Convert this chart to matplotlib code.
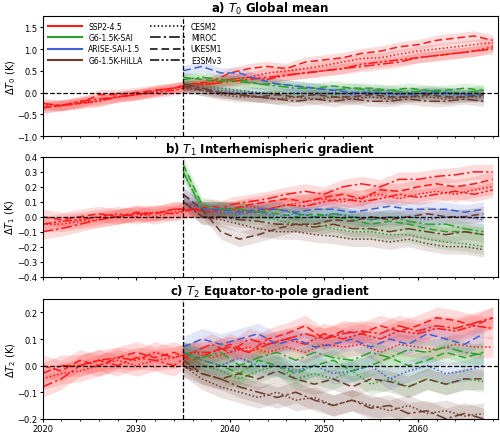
import matplotlib
matplotlib.use("Agg")
import matplotlib.pyplot as plt
from matplotlib.lines import Line2D
import numpy as np

years_ssp = list(range(2020, 2069, 2))
years_sai = list(range(2035, 2068, 2))

scenarios = ["SSP2-4.5", "G6-1.5K-SAI", "ARISE-SAI-1.5", "G6-1.5K-HiLLA"]
models = ["CESM2", "MIROC", "UKESM1", "E3SMv3"]

# Panel a: T0
a_ssp_cesm = [-0.3,-0.28,-0.22,-0.2,-0.1,-0.05,0.02,0.1,0.15,0.25,0.3,0.35,0.45,0.5,0.55,0.62,0.7,0.78,0.8,0.88,0.95,1.0,1.05,1.1,1.15]
a_ssp_miroc = [-0.25,-0.3,-0.2,-0.15,-0.1,-0.05,0.05,0.1,0.2,0.2,0.25,0.3,0.35,0.4,0.45,0.5,0.55,0.6,0.65,0.7,0.8,0.85,0.9,0.95,1.0]
a_ssp_ukesm = [-0.35,-0.3,-0.25,-0.05,-0.05,0.0,0.05,0.1,0.2,0.25,0.45,0.55,0.6,0.55,0.7,0.75,0.8,0.9,0.95,1.05,1.1,1.2,1.25,1.3,1.2]
a_ssp_e3sm = [-0.35,-0.3,-0.25,-0.2,-0.1,-0.05,0.0,0.05,0.15,0.2,0.3,0.35,0.3,0.4,0.45,0.5,0.55,0.65,0.7,0.75,0.8,0.85,0.9,0.95,1.05]
a_g6_cesm = [0.2,0.15,0.1,0.05,0.0,0.0,-0.05,0.0,-0.05,0.0,0.0,-0.05,0.0,-0.05,0.0,-0.05,0.0]
a_g6_miroc = [0.3,0.35,0.3,0.25,0.2,0.15,0.1,0.1,0.05,0.1,0.05,0.05,0.0,0.05,0.0,0.0,0.05]
a_g6_ukesm = [0.35,0.3,0.25,0.3,0.2,0.2,0.15,0.1,0.15,0.1,0.1,0.05,0.1,0.05,0.05,0.1,0.05]
a_arise_ukesm = [0.5,0.6,0.45,0.45,0.3,0.2,0.15,0.1,0.05,0.0,0.0,0.0,-0.05,0.0,0.0,-0.05,-0.05]
a_arise_cesm = [0.15,0.1,0.05,0.0,0.0,-0.05,0.0,-0.05,0.0,-0.05,0.0,-0.05,-0.05,0.0,-0.05,-0.05,-0.1]
a_hilla_cesm = [0.1,0.05,-0.05,-0.1,-0.1,-0.15,-0.1,-0.15,-0.1,-0.15,-0.1,-0.15,-0.1,-0.1,-0.15,-0.1,-0.1]
a_hilla_miroc = [0.2,0.1,0.0,-0.05,-0.1,-0.15,-0.2,-0.15,-0.2,-0.15,-0.2,-0.2,-0.15,-0.2,-0.2,-0.15,-0.2]
a_hilla_ukesm = [0.15,0.05,0.0,-0.05,-0.1,-0.05,-0.1,-0.05,-0.1,-0.1,-0.05,-0.1,-0.1,-0.05,-0.1,-0.1,-0.05]

# Panel b: T1
b_ssp_cesm = [-0.05,-0.05,-0.03,-0.02,0.0,0.02,0.0,0.03,0.05,0.03,0.05,0.07,0.05,0.08,0.1,0.12,0.1,0.13,0.15,0.12,0.15,0.17,0.15,0.18,0.2]
b_ssp_miroc = [-0.1,-0.08,-0.05,-0.02,0.0,0.02,0.02,0.05,0.05,0.03,0.08,0.1,0.12,0.15,0.17,0.15,0.2,0.22,0.2,0.25,0.25,0.27,0.28,0.3,0.3]
b_ssp_ukesm = [0.0,-0.02,0.0,0.02,0.0,0.03,0.02,0.05,0.05,0.07,0.05,0.08,0.1,0.12,0.1,0.13,0.15,0.12,0.18,0.17,0.2,0.22,0.2,0.22,0.25]
b_ssp_e3sm = [-0.05,-0.03,-0.02,0.0,0.02,0.0,0.03,0.02,0.05,0.05,0.05,0.03,0.05,0.08,0.07,0.1,0.12,0.1,0.12,0.15,0.13,0.15,0.17,0.15,0.18]
b_g6_cesm = [0.3,0.05,0.05,0.0,0.0,-0.02,-0.05,-0.05,-0.08,-0.1,-0.1,-0.12,-0.12,-0.15,-0.17,-0.18,-0.2]
b_g6_miroc = [0.3,0.05,0.05,0.05,0.03,0.05,0.02,0.0,0.02,0.0,-0.02,0.0,-0.03,-0.05,-0.05,-0.08,-0.1]
b_g6_ukesm = [0.35,0.08,0.05,0.05,0.03,0.02,0.0,0.02,0.0,-0.02,-0.05,-0.03,-0.05,-0.08,-0.1,-0.1,-0.12]
b_arise_ukesm = [0.15,0.05,0.05,0.03,0.05,0.05,0.03,0.05,0.05,0.03,0.05,0.07,0.05,0.05,0.05,0.03,0.05]
b_arise_cesm = [0.1,0.05,0.03,0.02,0.03,0.0,0.02,0.0,0.02,0.0,-0.02,0.0,0.0,-0.02,0.0,0.0,-0.02]
b_hilla_cesm = [0.1,0.0,-0.02,-0.05,-0.08,-0.1,-0.1,-0.12,-0.13,-0.15,-0.15,-0.17,-0.15,-0.18,-0.2,-0.2,-0.22]
b_hilla_miroc = [0.1,0.0,0.0,-0.02,-0.03,-0.05,-0.05,-0.07,-0.05,-0.08,-0.08,-0.1,-0.08,-0.1,-0.12,-0.1,-0.12]
b_hilla_ukesm = [0.15,0.05,-0.1,-0.15,-0.12,-0.08,-0.05,-0.05,-0.02,-0.03,0.0,-0.02,0.0,0.02,0.0,0.0,0.02]

# Panel c: T2
c_ssp_cesm = [-0.05,-0.03,-0.02,0.0,0.02,0.0,0.02,0.03,0.05,0.03,0.05,0.07,0.05,0.07,0.05,0.08,0.07,0.08,0.05,0.08,0.07,0.06,0.08,0.07,0.07]
c_ssp_miroc = [-0.08,-0.05,0.0,0.02,0.0,0.03,0.02,0.0,0.05,0.08,0.05,0.1,0.08,0.1,0.12,0.1,0.12,0.13,0.12,0.15,0.13,0.15,0.14,0.16,0.18]
c_ssp_ukesm = [0.0,-0.02,0.02,0.0,0.03,0.05,0.03,0.05,0.02,0.05,0.08,0.05,0.1,0.12,0.15,0.1,0.13,0.12,0.15,0.13,0.15,0.18,0.17,0.15,0.18]
c_ssp_e3sm = [-0.03,0.0,0.0,0.02,0.03,0.02,0.05,0.03,0.05,0.05,0.07,0.05,0.08,0.1,0.08,0.12,0.1,0.12,0.1,0.13,0.12,0.14,0.13,0.15,0.14]
c_g6_cesm = [0.05,0.0,-0.02,-0.05,-0.02,0.0,-0.05,-0.03,-0.05,-0.02,-0.07,-0.05,-0.08,-0.05,-0.07,-0.05,-0.06]
c_g6_miroc = [0.05,0.03,0.05,0.0,0.03,0.05,0.02,0.05,0.03,0.02,0.05,0.03,0.06,0.05,0.07,0.05,0.04]
c_g6_ukesm = [0.05,0.02,0.0,-0.03,0.02,0.0,-0.03,0.0,0.02,-0.02,0.0,0.03,0.0,0.02,0.05,0.03,0.05]
c_arise_ukesm = [0.07,0.1,0.08,0.1,0.12,0.08,0.1,0.07,0.08,0.1,0.07,0.1,0.08,0.12,0.1,0.08,0.12]
c_arise_cesm = [0.05,0.02,0.0,0.03,0.0,0.0,-0.02,0.0,-0.03,-0.02,0.0,-0.05,-0.02,0.0,-0.03,-0.02,0.0]
c_hilla_cesm = [0.0,-0.05,-0.08,-0.1,-0.12,-0.1,-0.13,-0.12,-0.15,-0.13,-0.15,-0.17,-0.15,-0.18,-0.17,-0.19,-0.18]
c_hilla_miroc = [0.0,-0.03,-0.05,-0.08,-0.1,-0.12,-0.1,-0.13,-0.15,-0.13,-0.16,-0.15,-0.18,-0.17,-0.2,-0.18,-0.2]
c_hilla_ukesm = [0.02,-0.03,-0.05,-0.03,-0.05,-0.02,-0.05,-0.07,-0.05,-0.08,-0.05,-0.06,-0.08,-0.05,-0.07,-0.05,-0.05]

colors = {"SSP2-4.5": "#ff1a1a", "G6-1.5K-SAI": "#2ca02c",
          "ARISE-SAI-1.5": "#4060d0", "G6-1.5K-HiLLA": "#6b3a2a"}
styles = {"CESM2": (0, (1, 1.5)), "MIROC": (0, (7, 2, 1.5, 2)),
          "UKESM1": (0, (5, 2.5)), "E3SMv3": (0, (6, 1.5, 1.5, 1.5, 1.5, 1.5))}

panels = [
    dict(title=r"a) $T_0$ Global mean", ylabel=r"$\Delta T_0$ (K)", ylim=(-1, 1.75),
         ticks=np.arange(-1, 1.51, 0.5), spread=0.12,
         series=[("SSP2-4.5", "CESM2", a_ssp_cesm), ("SSP2-4.5", "MIROC", a_ssp_miroc),
                 ("SSP2-4.5", "UKESM1", a_ssp_ukesm), ("SSP2-4.5", "E3SMv3", a_ssp_e3sm),
                 ("G6-1.5K-SAI", "CESM2", a_g6_cesm), ("G6-1.5K-SAI", "MIROC", a_g6_miroc),
                 ("G6-1.5K-SAI", "UKESM1", a_g6_ukesm), ("ARISE-SAI-1.5", "UKESM1", a_arise_ukesm),
                 ("ARISE-SAI-1.5", "CESM2", a_arise_cesm), ("G6-1.5K-HiLLA", "CESM2", a_hilla_cesm),
                 ("G6-1.5K-HiLLA", "MIROC", a_hilla_miroc), ("G6-1.5K-HiLLA", "UKESM1", a_hilla_ukesm)]),
    dict(title=r"b) $T_1$ Interhemispheric gradient", ylabel=r"$\Delta T_1$ (K)", ylim=(-0.4, 0.4),
         ticks=np.arange(-0.4, 0.41, 0.1), spread=0.05,
         series=[("SSP2-4.5", "CESM2", b_ssp_cesm), ("SSP2-4.5", "MIROC", b_ssp_miroc),
                 ("SSP2-4.5", "UKESM1", b_ssp_ukesm), ("SSP2-4.5", "E3SMv3", b_ssp_e3sm),
                 ("G6-1.5K-SAI", "CESM2", b_g6_cesm), ("G6-1.5K-SAI", "MIROC", b_g6_miroc),
                 ("G6-1.5K-SAI", "UKESM1", b_g6_ukesm), ("ARISE-SAI-1.5", "UKESM1", b_arise_ukesm),
                 ("ARISE-SAI-1.5", "CESM2", b_arise_cesm), ("G6-1.5K-HiLLA", "CESM2", b_hilla_cesm),
                 ("G6-1.5K-HiLLA", "MIROC", b_hilla_miroc), ("G6-1.5K-HiLLA", "UKESM1", b_hilla_ukesm)]),
    dict(title=r"c) $T_2$ Equator-to-pole gradient", ylabel=r"$\Delta T_2$ (K)", ylim=(-0.2, 0.25),
         ticks=np.arange(-0.2, 0.21, 0.1), spread=0.04,
         series=[("SSP2-4.5", "CESM2", c_ssp_cesm), ("SSP2-4.5", "MIROC", c_ssp_miroc),
                 ("SSP2-4.5", "UKESM1", c_ssp_ukesm), ("SSP2-4.5", "E3SMv3", c_ssp_e3sm),
                 ("G6-1.5K-SAI", "CESM2", c_g6_cesm), ("G6-1.5K-SAI", "MIROC", c_g6_miroc),
                 ("G6-1.5K-SAI", "UKESM1", c_g6_ukesm), ("ARISE-SAI-1.5", "UKESM1", c_arise_ukesm),
                 ("ARISE-SAI-1.5", "CESM2", c_arise_cesm), ("G6-1.5K-HiLLA", "CESM2", c_hilla_cesm),
                 ("G6-1.5K-HiLLA", "MIROC", c_hilla_miroc), ("G6-1.5K-HiLLA", "UKESM1", c_hilla_ukesm)]),
]

fig = plt.figure(figsize=(5, 4.35), dpi=100)
boxes = [(0.085, 0.685, 0.91, 0.275), (0.085, 0.362, 0.91, 0.275), (0.085, 0.035, 0.91, 0.275)]
for i, (p, box) in enumerate(zip(panels, boxes)):
    ax = fig.add_axes(box)
    for scen, mod, vals in p["series"]:
        x = years_ssp if scen == "SSP2-4.5" else years_sai
        v = np.array(vals)
        ax.fill_between(x, v - p["spread"], v + p["spread"], color=colors[scen], alpha=0.15, lw=0)
        ax.plot(x, v, color=colors[scen], ls=styles[mod], lw=1.1)
    ax.axhline(0, color="k", ls="--", lw=0.9)
    ax.axvline(2035, color="k", ls="--", lw=0.9)
    ax.set_xlim(2020, 2068.5)
    ax.set_ylim(*p["ylim"])
    ax.set_yticks(p["ticks"])
    ax.set_ylabel(p["ylabel"], fontsize=7, labelpad=0)
    ax.set_title(p["title"], fontsize=8.5, fontweight="bold", pad=2)
    ax.tick_params(labelsize=6, length=2, pad=1.5)
    ax.set_xticks([2020, 2030, 2040, 2050, 2060])
    ax.set_xticks(range(2020, 2069, 2), minor=True)
    ax.tick_params(which="minor", length=1.2)
    if i < 2:
        ax.set_xticklabels([])
    if i == 0:
        handles = []
        labels = []
        for s in scenarios:
            handles.append(Line2D([], [], color=colors[s], lw=1.5)); labels.append(s)
        for m in models:
            handles.append(Line2D([], [], color="k", ls=styles[m], lw=1.1)); labels.append(m)
        ax.legend(handles, labels, ncol=2, fontsize=5.5, loc="upper left", frameon=False,
                  handlelength=4.5, columnspacing=1.0, labelspacing=0.3, borderaxespad=0.3)

fig.savefig("out.png", dpi=100)
